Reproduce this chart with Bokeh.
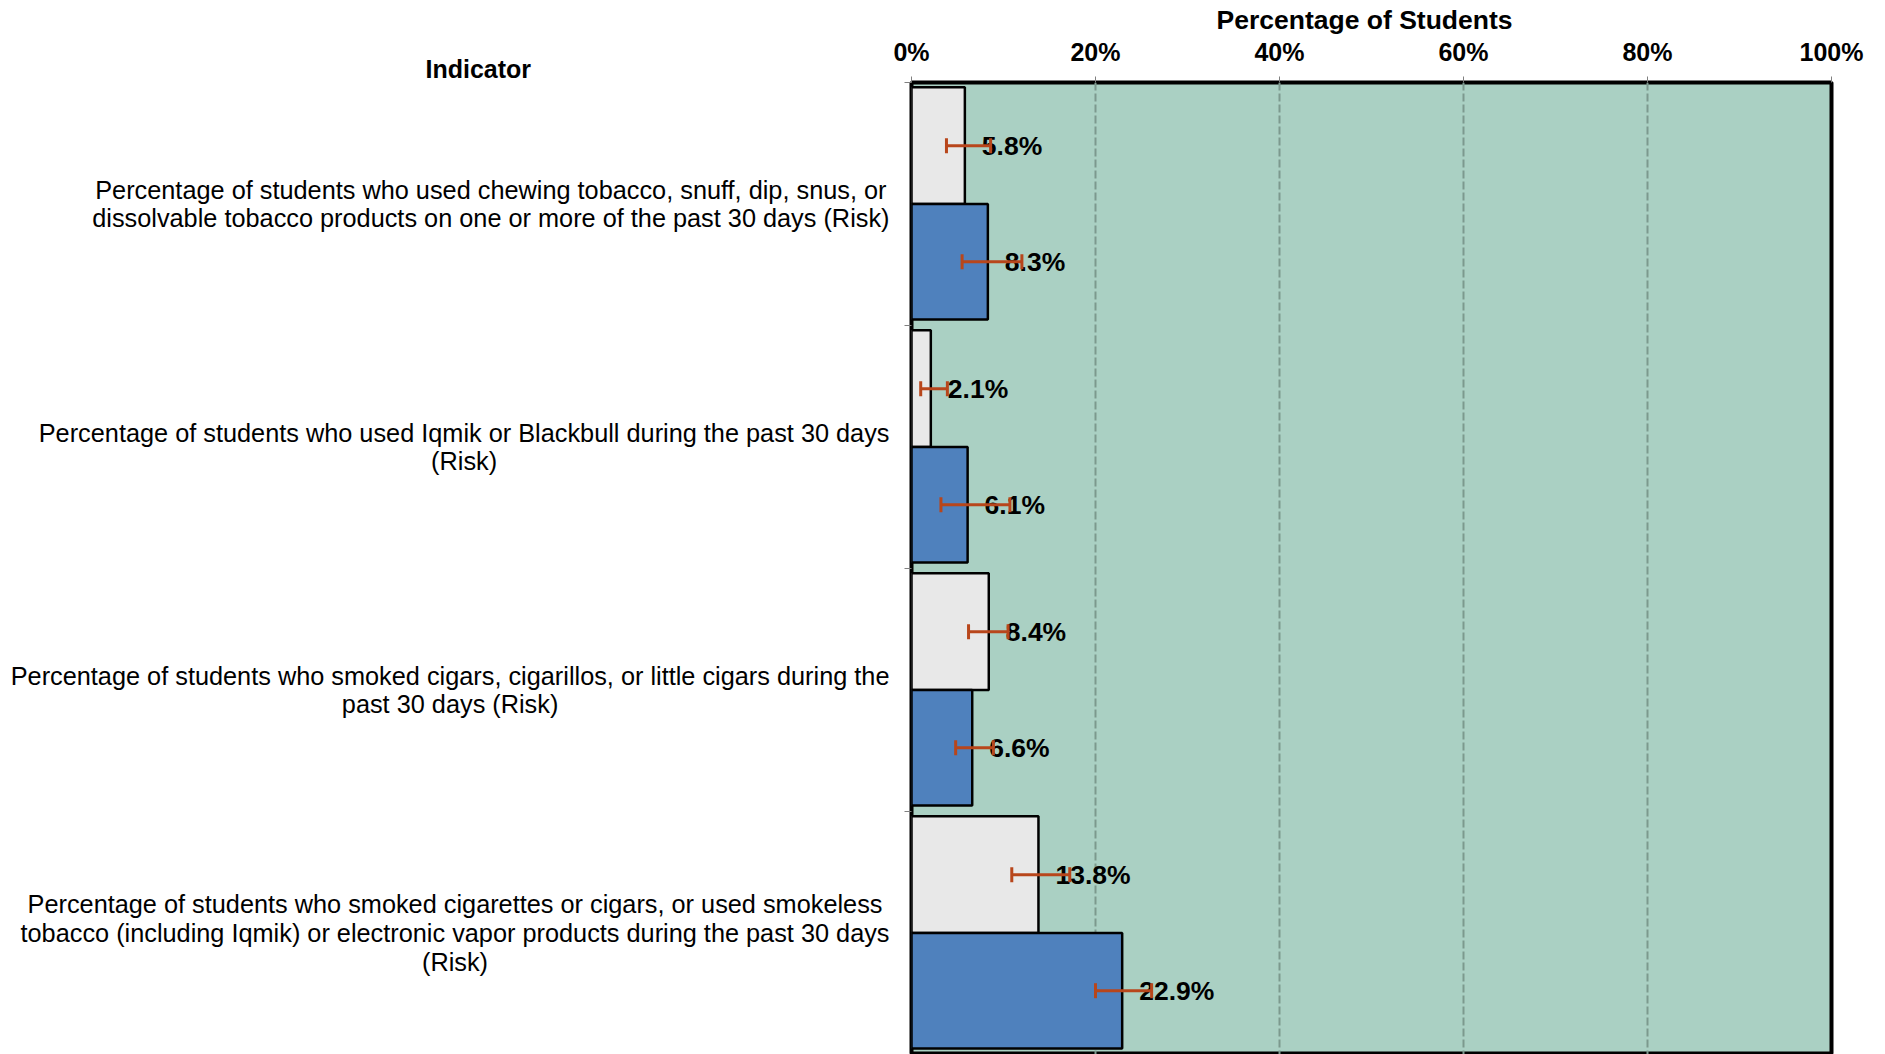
from bokeh.plotting import figure
from bokeh.layouts import row
from bokeh.models import (ColumnDataSource, Range1d, FixedTicker, PrintfTickFormatter,
                          Whisker, TeeHead)
from bokeh.embed import file_html
from bokeh.resources import INLINE
from bokeh.core.properties import value

# ---------------- data ----------------
indicators = [
    "Percentage of students who used chewing tobacco, snuff, dip, snus, or\n"
    "dissolvable tobacco products on one or more of the past 30 days (Risk)",
    "Percentage of students who used Iqmik or Blackbull during the past 30 days\n"
    "(Risk)",
    "Percentage of students who smoked cigars, cigarillos, or little cigars during the\n"
    "past 30 days (Risk)",
    "Percentage of students who smoked cigarettes or cigars, or used smokeless\n"
    "tobacco (including Iqmik) or electronic vapor products during the past 30 days\n"
    "(Risk)",
]
series_gray = [5.8, 2.1, 8.4, 13.8]
series_gray_lo = [3.8, 1.0, 6.2, 10.9]
series_gray_hi = [8.6, 3.9, 10.5, 17.2]
series_blue = [8.3, 6.1, 6.6, 22.9]
series_blue_lo = [5.5, 3.2, 4.8, 20.0]
series_blue_hi = [12.0, 10.7, 8.9, 26.1]
x_ticks = [0, 20, 40, 60, 80, 100]
x_title = "Percentage of Students"
y_title = "Indicator"

# ---------------- styles ----------------
FONT = "Liberation Sans"
BG = "#AAD0C3"
GRAY = "#E8E8E8"
BLUE = "#4F81BD"
ERR = "#B8461B"
GRID = "#7C998E"

FRAME_W = 920
FRAME_H = 972
GAP = 20          # border left of the plot frame (room for the 0% label)
LEFT_W = 911 - GAP  # width of the label panel
TOP = 82
FS = 25           # tick labels / header, px
FS_LAB = 25.3     # indicator labels, px
FS_VAL = 26.5     # value labels, px
FS_TITLE = 26.5

# Arial / Liberation Sans advance widths (per 1000 em)
W = {' ': 278, ',': 278, '.': 278, '(': 333, ')': 333, '-': 333}
W.update({d: 556 for d in "0123456789"})
W.update(dict(zip("ABCDEFGHIJKLMNOPQRSTUVWXYZ",
                  [667, 667, 722, 722, 667, 611, 778, 722, 278, 500, 667, 556, 833,
                   722, 778, 667, 778, 722, 667, 611, 722, 667, 944, 667, 667, 611])))
W.update(dict(zip("abcdefghijklmnopqrstuvwxyz",
                  [556, 556, 500, 556, 556, 278, 556, 556, 222, 222, 500, 222, 833,
                   556, 556, 556, 556, 333, 500, 278, 556, 500, 722, 500, 500, 500])))
# Arial Bold widths for the axis title
WB = {' ': 278, 'P': 667, 'S': 667, 'e': 556, 'r': 389, 'c': 556, 'n': 611, 't': 333,
      'a': 556, 'g': 611, 'o': 611, 'f': 333, 'u': 611, 'd': 611, 's': 556}


def text_width(s, size, table=W):
    return sum(table.get(c, 556) for c in s) * size / 1000.0


n = len(indicators)
ycat = [i + 0.5 for i in range(n)]
ygray = [i + 0.26 for i in range(n)]
yblue = [i + 0.7375 for i in range(n)]

frame_left = LEFT_W + GAP            # plot frame left edge in label-panel pixels
label_right = frame_left - 22
label_x = [label_right - max(text_width(l, FS_LAB) for l in s.split("\n")) / 2
           for s in indicators]

src = ColumnDataSource(dict(
    label=indicators, ycat=ycat, label_x=label_x,
    ygray=ygray, gray=series_gray, gray_lo=series_gray_lo, gray_hi=series_gray_hi,
    gray_txt=[f"{v:.1f}%" for v in series_gray],
    yblue=yblue, blue=series_blue, blue_lo=series_blue_lo, blue_hi=series_blue_hi,
    blue_txt=[f"{v:.1f}%" for v in series_blue],
))

y_range = Range1d(n, 0)

# ---------------- main plot ----------------
p = figure(width=GAP + FRAME_W + 40, height=TOP + FRAME_H,
           x_range=Range1d(x_ticks[0], x_ticks[-1]), y_range=y_range,
           x_axis_location="above", y_axis_location="left", title=x_title,
           output_backend="svg", toolbar_location=None,
           min_border_left=GAP, min_border_right=40, min_border_top=TOP, min_border_bottom=0,
           background_fill_color=BG, border_fill_color="white",
           outline_line_color="black", outline_line_width=4)

p.title.text_font = FONT
p.title.text_font_size = f"{FS_TITLE}px"
p.title.text_font_style = "bold"
p.title.text_color = "black"
p.title.align = "left"
p.title.offset = FRAME_W / 2 - 7 - text_width(x_title, FS_TITLE, WB) / 2
p.title.standoff = 0

xa = p.xaxis[0]
xa.ticker = FixedTicker(ticks=x_ticks)
xa.formatter = PrintfTickFormatter(format="%d%%")
xa.major_label_text_font = FONT
xa.major_label_text_font_size = f"{FS}px"
xa.major_label_text_font_style = "bold"
xa.major_label_text_color = "black"
xa.major_label_standoff = 11
xa.major_tick_in = 0
xa.major_tick_out = 6
xa.major_tick_line_color = "#808080"
xa.minor_tick_line_color = None
xa.axis_line_color = None

# category boundary ticks
ya = p.yaxis[0]
ya.ticker = FixedTicker(ticks=list(range(n + 1)))
ya.major_label_text_font_size = "0px"
ya.major_label_text_alpha = 0
ya.major_label_standoff = 0
ya.major_tick_in = 0
ya.major_tick_out = 7
ya.major_tick_line_color = "#808080"
ya.minor_tick_line_color = None
ya.axis_line_color = None

p.ygrid.visible = False
p.xgrid.ticker = FixedTicker(ticks=x_ticks)
p.xgrid.grid_line_color = GRID
p.xgrid.grid_line_width = 2
p.xgrid.grid_line_dash = "8 3"

p.hbar(y="ygray", left=0, right="gray", height=0.48, source=src,
       fill_color=GRAY, line_color="black", line_width=2.5)
p.hbar(y="yblue", left=0, right="blue", height=0.475, source=src,
       fill_color=BLUE, line_color="black", line_width=2.5)

for ycol, xcol, tcol in (("ygray", "gray", "gray_txt"), ("yblue", "blue", "blue_txt")):
    p.text(x=xcol, y=ycol, text=tcol, source=src, x_offset=17,
           text_align="left", text_baseline="middle",
           text_font=value(FONT), text_font_size=f"{FS_VAL}px", text_font_style="bold",
           text_color="black")

for base, lo, hi in (("ygray", "gray_lo", "gray_hi"), ("yblue", "blue_lo", "blue_hi")):
    w = Whisker(source=src, base=base, lower=lo, upper=hi, dimension="width",
                line_color=ERR, line_width=3, level="overlay",
                lower_head=TeeHead(size=15, line_color=ERR, line_width=3),
                upper_head=TeeHead(size=15, line_color=ERR, line_width=3))
    p.add_layout(w)

# ---------------- label panel ----------------
lp = figure(width=LEFT_W, height=TOP + FRAME_H,
            x_range=Range1d(0, LEFT_W), y_range=y_range,
            x_axis_location=None, y_axis_location=None,
            output_backend="svg", toolbar_location=None,
            min_border_left=0, min_border_right=0, min_border_top=TOP, min_border_bottom=0,
            background_fill_color="white", border_fill_color="white",
            outline_line_color=None, title=y_title)
lp.grid.visible = False
lp.title.text_font = FONT
lp.title.text_font_size = f"{FS}px"
lp.title.text_font_style = "bold"
lp.title.text_color = "black"
lp.title.align = "left"
lp.title.offset = 425
lp.title.standoff = 0

lp.text(x="label_x", y="ycat", text="label", source=src,
        text_align="center", text_baseline="middle",
        text_font=value(FONT), text_font_size=f"{FS_LAB}px",
        text_color="black", text_line_height=1.03)

layout = row(lp, p)
open("out.html", "w").write(file_html(layout, INLINE))
